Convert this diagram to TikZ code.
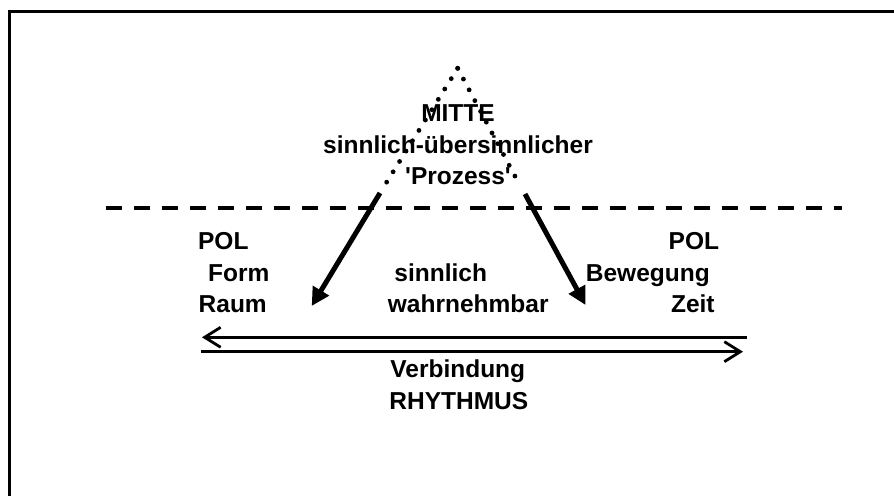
\documentclass[tikz,border=0pt]{standalone}
\usepackage{fontspec}
\setmainfont{Liberation Sans}
\usetikzlibrary{arrows.meta}

\tikzset{
  lbl/.style={font=\bfseries\fontsize{12.25}{15.5}\selectfont, inner sep=0pt},
  dotline/.style={line width=2.4pt, line cap=round, dash pattern=on 0pt off 6.1pt},
  bigarrow/.style={line width=2.5pt, -{Triangle[length=9pt,width=9pt]}},
  thinarrow/.style={line width=1.4pt, -{Straight Barb[length=8pt,width=10pt]}}
}

\begin{document}
\begin{tikzpicture}[x=0.5pt,y=-0.5pt]
\useasboundingbox (0,0) rectangle (894,496);
% frame
\draw[line width=1.4pt] (9.3,496) -- (9.3,11.5) -- (894,11.5);
% horizon
\coordinate (hl) at (106,208.5);
\coordinate (hr) at (842,208.5);
\draw[line width=2pt, dash pattern=on 8pt off 6pt] (hl) -- (hr);
% triangle
\coordinate (apex) at (457.7,68.3);
\coordinate (dl) at (385.7,183.7);
\coordinate (dr) at (519.3,184.3);
\draw[dotline] (apex) -- (dl);
\draw[dotline] (apex) -- (dr);
\coordinate (al) at (380,193);
\coordinate (tl) at (311.7,306);
\coordinate (ar) at (525,194);
\coordinate (tr) at (585.5,305);
\draw[bigarrow] (al) -- (tl);
\draw[bigarrow] (ar) -- (tr);
% texts
\node[lbl, anchor=base] (mitte) at (458,121.7) {MITTE};
\node[lbl, anchor=base] (prozess1) at (458,153.2) {sinnlich-übersinnlicher};
\node[lbl, anchor=base] (prozess2) at (458,184.3) {\textquotesingle Prozess\textquotesingle};
\node[lbl, anchor=base west] (polL) at (197.7,250) {POL};
\node[lbl, anchor=base west] (form) at (207.7,282) {Form};
\node[lbl, anchor=base west] (raum) at (198.3,313) {Raum};
\node[lbl, anchor=base west] (sinn) at (394,282) {sinnlich};
\node[lbl, anchor=base west] (wahr) at (387.5,313) {wahrnehmbar};
\node[lbl, anchor=base east] (polR) at (719.5,250) {POL};
\node[lbl, anchor=base west] (beweg) at (585.5,282) {Bewegung};
\node[lbl, anchor=base east] (zeit) at (715,313) {Zeit};
% Verbindung
\coordinate (ul) at (746.7,337.3);
\coordinate (ur) at (202,337.3);
\coordinate (vl) at (200.5,351.7);
\coordinate (vr) at (743,351.7);
\draw[thinarrow] (ul) -- (ur);
\draw[thinarrow] (vl) -- (vr);
\node[lbl, anchor=base west] (verb) at (390,378) {Verbindung};
\node[lbl, anchor=base west] (rhyth) at (389,409) {RHYTHMUS};
\end{tikzpicture}
\end{document}
